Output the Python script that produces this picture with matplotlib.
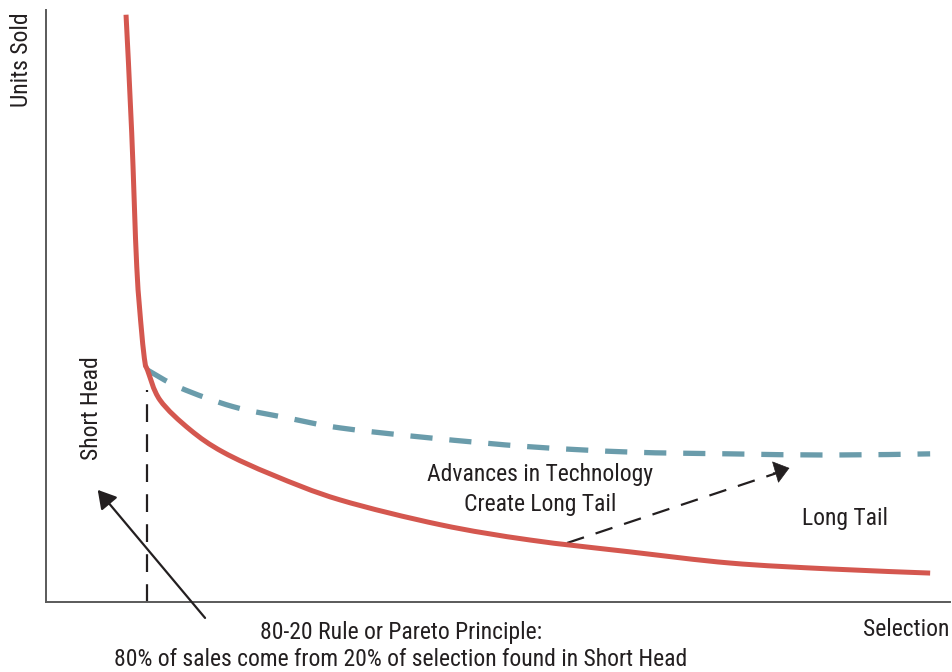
import matplotlib
matplotlib.use("Agg")
import matplotlib.pyplot as plt
from matplotlib import font_manager
from matplotlib.path import Path
from matplotlib.patches import PathPatch

# Pick a narrow sans face when one is available
available = {f.name for f in font_manager.fontManager.ttflist}
family = [f for f in ["Liberation Sans Narrow", "Roboto Condensed", "DejaVu Sans"] if f in available]
plt.rcParams["font.family"] = family

# Sales curve: traditional market (short head + thin tail)
head_x = [8.87, 9.50, 10.06, 10.61, 10.98, 11.25, 12.64, 15.96, 19.62, 25.17, 32.59,
          43.68, 53.66, 64.70, 75.83, 86.90, 98.00]
head_y = [99.5, 79.5, 56.8, 45.6, 40.5, 39.3, 34.2, 29.2, 25.4, 21.5, 17.3,
          13.1, 10.5, 8.5, 6.6, 5.6, 4.9]

# Sales curve once technology lengthens the tail
tail_x = [11.25, 14.86, 20.73, 26.72, 32.59, 42.57, 53.66, 64.75, 75.83, 86.90, 98.00]
tail_y = [39.3, 36.3, 33.1, 31.2, 29.5, 27.8, 26.3, 25.4, 25.1, 24.9, 25.1]

# Boundary of the short head
head_boundary_x = 11.2
head_boundary_top = 35.9

RED = "#d4574f"
BLUE = "#6a9cab"
INK = "#231f20"
AXIS = "#5a5a5a"


def smooth_path(xs, ys):
    """Cubic Bezier path through the given points (Catmull-Rom tangents)."""
    pts = list(zip(xs, ys))
    n = len(pts)
    verts = [pts[0]]
    codes = [Path.MOVETO]
    for i in range(n - 1):
        p0 = pts[i - 1] if i > 0 else pts[i]
        p1 = pts[i]
        p2 = pts[i + 1]
        p3 = pts[i + 2] if i + 2 < n else pts[i + 1]
        c1 = (p1[0] + (p2[0] - p0[0]) / 6, p1[1] + (p2[1] - p0[1]) / 6)
        c2 = (p2[0] - (p3[0] - p1[0]) / 6, p2[1] - (p3[1] - p1[1]) / 6)
        verts += [c1, c2, p2]
        codes += [Path.CURVE4] * 3
    return Path(verts, codes)


fig = plt.figure(figsize=(9.53, 6.72), dpi=100)
ax = fig.add_axes([46 / 953, 70 / 672, 904 / 953, 592 / 672])
ax.set_xlim(0, 100.2)
ax.set_ylim(0, 100.3)
for s in ["top", "right"]:
    ax.spines[s].set_visible(False)
for s in ["left", "bottom"]:
    ax.spines[s].set_color(AXIS)
    ax.spines[s].set_linewidth(1.4)
ax.set_xticks([])
ax.set_yticks([])

ax.add_patch(PathPatch(smooth_path(tail_x, tail_y), fill=False, edgecolor=BLUE, lw=3.8,
                       linestyle=(0, (4.2, 3.2)), capstyle="butt", zorder=2))
ax.add_patch(PathPatch(smooth_path(head_x, head_y), fill=False, edgecolor=RED, lw=3.6,
                       capstyle="butt", joinstyle="round", zorder=3))

# Short-head boundary
ax.plot([head_boundary_x, head_boundary_x], [0, head_boundary_top], color=INK, lw=1.6,
        dashes=(8, 5.5), zorder=1)

# Arrow pointing at the short head
ax.annotate("", xy=(5.73, 19.0), xytext=(17.63, -2.7), annotation_clip=False,
            arrowprops=dict(arrowstyle="-|>,head_length=0.55,head_width=0.32",
                            mutation_scale=20, color=INK, lw=1.6,
                            shrinkA=0, shrinkB=0))

# Dashed arrow from the old tail up to the long tail
ax.plot([57.76, 81.3], [10.0, 22.0], color=INK, lw=1.6, dashes=(8, 5.5))
ax.annotate("", xy=(82.4, 22.7), xytext=(80.6, 21.9),
            arrowprops=dict(arrowstyle="-|>,head_length=0.5,head_width=0.38",
                            mutation_scale=20, color=INK, lw=0.5,
                            shrinkA=0, shrinkB=0))

fs = 17
fig.text(22 / 953, 1 - 12 / 672, "Units Sold", rotation=90, ha="center", va="top",
         fontsize=fs, color=INK)
fig.text(92 / 953, 1 - 408 / 672, "Short Head", rotation=90, ha="center", va="center",
         fontsize=fs, color=INK)
fig.text(540 / 953, 1 - 475 / 672, "Advances in Technology", ha="center", va="center",
         fontsize=fs, color=INK)
fig.text(540 / 953, 1 - 504 / 672, "Create Long Tail", ha="center", va="center",
         fontsize=fs, color=INK)
fig.text(845 / 953, 1 - 519 / 672, "Long Tail", ha="center", va="center",
         fontsize=fs, color=INK)
fig.text(906 / 953, 1 - 630 / 672, "Selection", ha="center", va="center",
         fontsize=fs, color=INK)
fig.text(401 / 953, 1 - 633 / 672, "80-20 Rule or Pareto Principle:", ha="center",
         va="center", fontsize=fs, color=INK)
fig.text(401 / 953, 1 - 660 / 672,
         "80% of sales come from 20% of selection found in Short Head",
         ha="center", va="center", fontsize=fs, color=INK)

fig.savefig("out.png", dpi=100)
